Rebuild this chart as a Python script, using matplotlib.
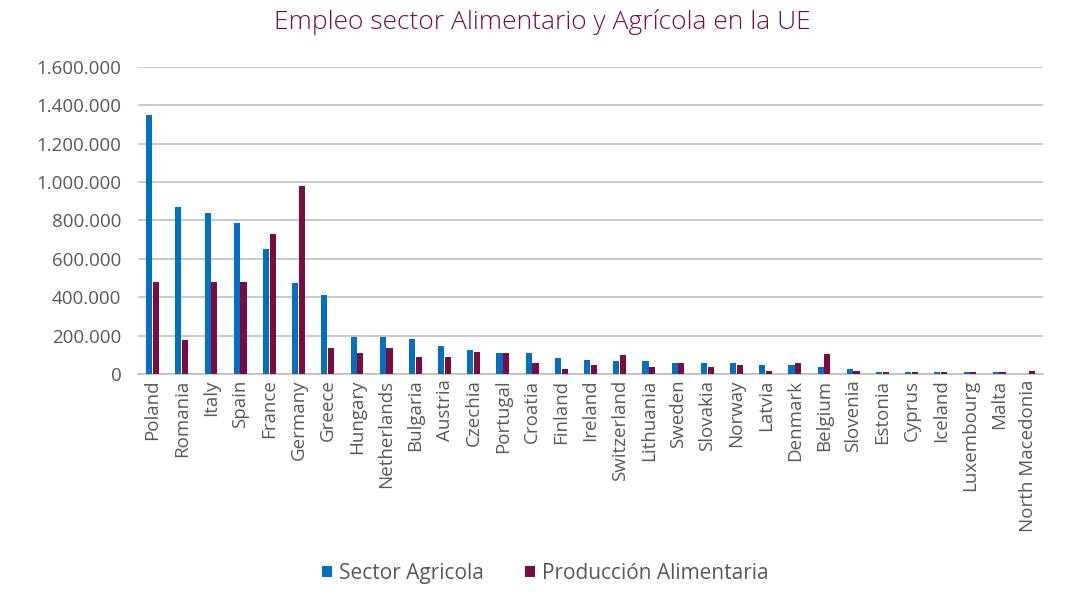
import matplotlib
matplotlib.use("Agg")
import matplotlib.pyplot as plt
import numpy as np
from matplotlib.ticker import FuncFormatter

countries = [
    "Poland", "Romania", "Italy", "Spain", "France", "Germany", "Greece",
    "Hungary", "Netherlands", "Bulgaria", "Austria", "Czechia", "Portugal",
    "Croatia", "Finland", "Ireland", "Switzerland", "Lithuania", "Sweden",
    "Slovakia", "Norway", "Latvia", "Denmark", "Belgium", "Slovenia",
    "Estonia", "Cyprus", "Iceland", "Luxembourg", "Malta", "North Macedonia",
]
sector_agricola = [
    1350000, 870000, 840000, 785000, 650000, 472000, 414000,
    193000, 193000, 184000, 146000, 124000, 107000,
    107000, 84000, 75000, 66000, 66000, 57000,
    57000, 57000, 48000, 48000, 37000, 27000,
    9000, 9000, 9000, 9000, 9000, 0,
]
produccion_alimentaria = [
    480000, 175000, 480000, 480000, 730000, 982000, 137000,
    109000, 137000, 89000, 89000, 116000, 107000,
    57000, 27000, 48000, 97000, 37000, 57000,
    37000, 48000, 18000, 57000, 105000, 18000,
    9000, 9000, 9000, 9000, 9000, 18000,
]

BLUE = "#0070C0"
MAROON = "#7B0C42"
GRAY = "#595959"

plt.rcParams["font.family"] = ["Open Sans", "DejaVu Sans"]

fig = plt.figure(figsize=(10.73, 5.96), dpi=100)
ax = fig.add_axes([0.1286, 0.3725, 0.8434, 0.5151])

x = np.arange(len(countries))
w = 0.21
ax.bar(x - w / 2 - 0.01, sector_agricola, width=w, color=BLUE,
       label="Sector Agricola", zorder=3)
ax.bar(x + w / 2 + 0.01, produccion_alimentaria, width=w, color=MAROON,
       label="Producción Alimentaria", zorder=3)

ax.set_xlim(-0.5, len(countries) - 0.5)
ax.set_ylim(0, 1600000)
ax.set_yticks(np.arange(0, 1600001, 200000))
ax.yaxis.set_major_formatter(
    FuncFormatter(lambda v, _: f"{int(v):,}".replace(",", "."))
)
ax.grid(axis="y", color="#BFBFBF", linewidth=1.2, zorder=0)
ax.set_xticks(x)
ax.set_xticklabels(countries, rotation=90, fontsize=13.5, color=GRAY)
ax.tick_params(axis="y", labelsize=13.5, labelcolor=GRAY, length=0, pad=12)
ax.tick_params(axis="x", length=0, pad=4)
for s in ["top", "right", "left"]:
    ax.spines[s].set_visible(False)
ax.spines["bottom"].set_color("#BFBFBF")
ax.spines["bottom"].set_linewidth(1.2)

fig.suptitle("Empleo sector Alimentario y Agrícola en la UE", color=MAROON,
             fontsize=19, fontweight="light", x=0.505, y=0.985, va="top")

fig.legend(loc="center", bbox_to_anchor=(0.508, 0.038), ncol=2,
           frameon=False, fontsize=15, labelcolor=GRAY, handlelength=0.5,
           handleheight=0.5, handletextpad=0.3, columnspacing=2.0)

fig.savefig("out.png", dpi=100)
